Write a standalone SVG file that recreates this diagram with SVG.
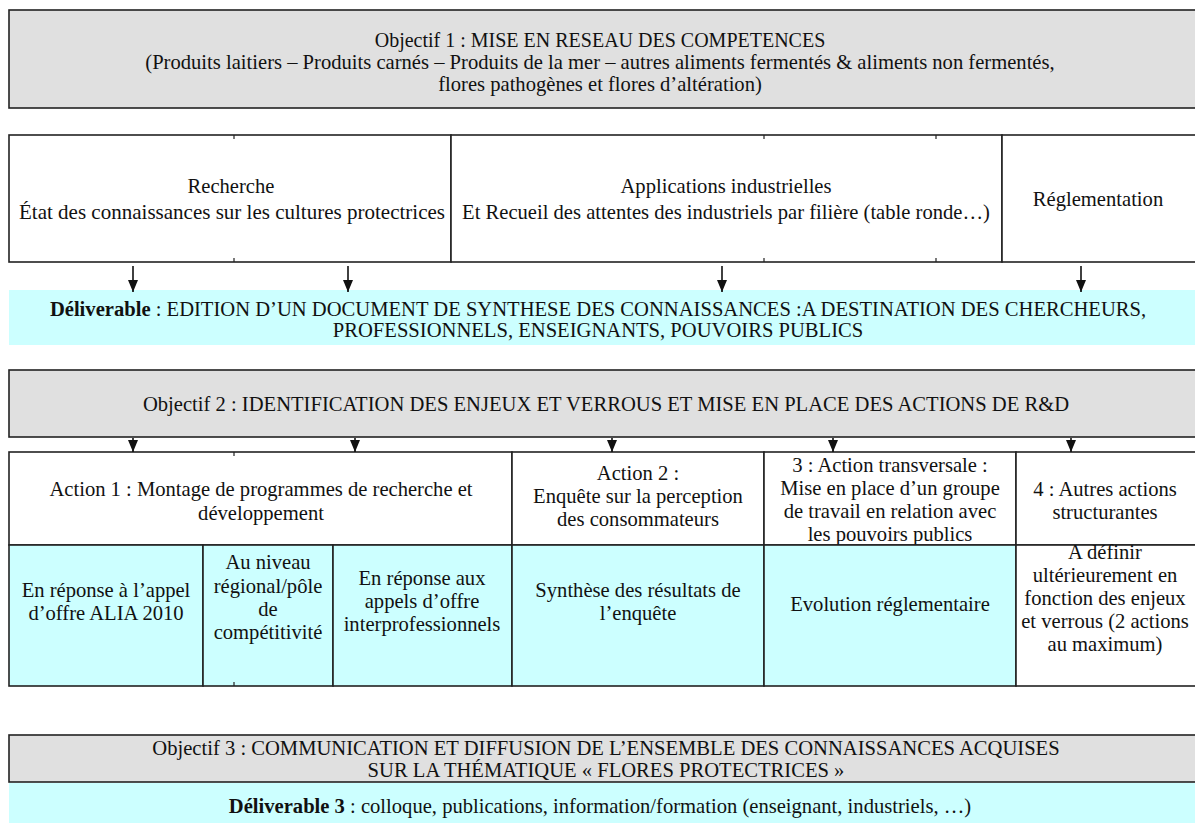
<svg xmlns="http://www.w3.org/2000/svg" width="1195" height="838" viewBox="0 0 1195 838" font-family="'Liberation Serif', 'DejaVu Serif', serif">
<style>
text{font-family:'Liberation Serif','DejaVu Serif',serif;font-size:20.6px;fill:#111;text-anchor:middle}
.b{font-weight:bold}
.gray{fill:#e0e0e0;stroke:#222;stroke-width:1.6}
.white{fill:#fff;stroke:#222;stroke-width:1.6}
.cyan{fill:#ccffff;stroke:none}
.cyanb{fill:#ccffff;stroke:#222;stroke-width:1.6}
.tick{stroke:#222;stroke-width:1.2}
.arr{stroke:#111;stroke-width:1.6;fill:none;marker-end:url(#ah)}
</style>
<defs>
<marker id="ah" viewBox="0 0 12 10" refX="12" refY="5" markerWidth="12" markerHeight="10" markerUnits="userSpaceOnUse" orient="auto">
<path d="M0,0 L12,5 L0,10 Z" fill="#111"/>
</marker>
</defs>

<g id="objectif1">
<rect class="gray" x="9" y="10" width="1195" height="98"/>
<text x="600" y="47" style="font-size:20px">Objectif 1 : MISE EN RESEAU DES COMPETENCES</text>
<text x="600" y="69">(Produits laitiers – Produits carnés – Produits de la mer – autres aliments fermentés &amp; aliments non fermentés,</text>
<text x="600" y="91">flores pathogènes et flores d’altération)</text>
</g>

<g id="recherche">
<rect class="white" x="9" y="135" width="442" height="127"/>
<text x="231" y="193">Recherche</text>
<text x="232" y="219" textLength="426" lengthAdjust="spacingAndGlyphs">État des connaissances sur les cultures protectrices</text>
</g>
<g id="applications">
<rect class="white" x="451" y="135" width="551" height="127"/>
<text x="726" y="193">Applications industrielles</text>
<text x="726" y="219">Et Recueil des attentes des industriels par filière (table ronde…)</text>
</g>
<g id="reglementation">
<rect class="white" x="1002" y="135" width="200" height="127"/>
<text x="1098" y="206">Réglementation</text>
</g>
<g id="ticks1">
<line class="tick" x1="234" y1="135" x2="234" y2="139"/>
<line class="tick" x1="234" y1="258" x2="234" y2="262"/>
<line class="tick" x1="764" y1="135" x2="764" y2="139"/>
<line class="tick" x1="764" y1="258" x2="764" y2="262"/>
<line class="tick" x1="936" y1="135" x2="936" y2="139"/>
<line class="tick" x1="936" y1="258" x2="936" y2="262"/>
</g>

<g id="deliverable1">
<rect class="cyan" x="9" y="290" width="1190" height="55"/>
<text x="598" y="316"><tspan class="b">Déliverable</tspan> : EDITION D’UN DOCUMENT DE SYNTHESE DES CONNAISSANCES :A DESTINATION DES CHERCHEURS,</text>
<text x="598" y="337">PROFESSIONNELS, ENSEIGNANTS, POUVOIRS PUBLICS</text>
</g>

<g id="objectif2">
<rect class="gray" x="9" y="370" width="1195" height="67"/>
<text x="606" y="411">Objectif 2 : IDENTIFICATION DES ENJEUX ET VERROUS ET MISE EN PLACE DES ACTIONS DE R&amp;D</text>
</g>

<g id="action1">
<rect class="white" x="9" y="452" width="503" height="93"/>
<text x="261" y="496">Action 1 : Montage de programmes de recherche et</text>
<text x="261" y="520">développement</text>
</g>
<g id="action2">
<rect class="white" x="512" y="452" width="252" height="93"/>
<text x="638" y="480">Action 2 :</text>
<text x="638" y="503">Enquête sur la perception</text>
<text x="638" y="526">des consommateurs</text>
</g>
<g id="action3">
<rect class="white" x="764" y="452" width="252" height="93"/>
<text x="890" y="472">3 : Action transversale :</text>
<text x="890" y="495">Mise en place d’un groupe</text>
<text x="890" y="518">de travail en relation avec</text>
<text x="890" y="541">les pouvoirs publics</text>
</g>
<g id="action4">
<rect class="white" x="1016" y="452" width="190" height="93"/>
<text x="1105" y="496">4 : Autres actions</text>
<text x="1105" y="519">structurantes</text>
</g>
<g id="alia">
<rect class="cyanb" x="9" y="545" width="194" height="141"/>
<text x="106" y="597">En réponse à l’appel</text>
<text x="106" y="620">d’offre ALIA 2010</text>
</g>
<g id="regional">
<rect class="cyanb" x="203" y="545" width="130" height="141"/>
<text x="268" y="569">Au niveau</text>
<text x="268" y="593">régional/pôle</text>
<text x="268" y="616">de</text>
<text x="268" y="639">compétitivité</text>
</g>
<g id="interpro">
<rect class="cyanb" x="333" y="545" width="179" height="141"/>
<text x="422" y="585">En réponse aux</text>
<text x="422" y="608">appels d’offre</text>
<text x="422" y="631">interprofessionnels</text>
</g>
<g id="synthese">
<rect class="cyanb" x="512" y="545" width="252" height="141"/>
<text x="638" y="597">Synthèse des résultats de</text>
<text x="638" y="620">l’enquête</text>
</g>
<g id="evolution">
<rect class="cyanb" x="764" y="545" width="252" height="141"/>
<text x="890" y="611">Evolution réglementaire</text>
</g>
<g id="adefinir">
<rect class="white" x="1016" y="545" width="190" height="141"/>
<text x="1105" y="559">A définir</text>
<text x="1105" y="582">ultérieurement en</text>
<text x="1105" y="605">fonction des enjeux</text>
<text x="1105" y="628">et verrous (2 actions</text>
<text x="1105" y="651">au maximum)</text>
</g>
<g id="ticks2">
<line class="tick" x1="234" y1="452" x2="234" y2="456"/>
<line class="tick" x1="234" y1="682" x2="234" y2="686"/>
</g>

<g id="objectif3">
<rect class="gray" x="9" y="735" width="1195" height="47"/>
<text x="606" y="755">Objectif 3 : COMMUNICATION ET DIFFUSION DE L’ENSEMBLE DES CONNAISSANCES ACQUISES</text>
<text x="606" y="777">SUR LA THÉMATIQUE « FLORES PROTECTRICES »</text>
</g>
<g id="deliverable3">
<rect class="cyan" x="9" y="783" width="1190" height="40"/>
<text x="600" y="813"><tspan class="b">Déliverable 3</tspan> : colloque, publications, information/formation (enseignant, industriels, …)</text>
</g>

<g id="connectors">
<line class="arr" x1="133" y1="266" x2="133" y2="292"/>
<line class="arr" x1="348" y1="266" x2="348" y2="292"/>
<line class="arr" x1="722" y1="266" x2="722" y2="292"/>
<line class="arr" x1="1081" y1="266" x2="1081" y2="292"/>
<line class="arr" x1="133" y1="438" x2="133" y2="452"/>
<line class="arr" x1="355" y1="438" x2="355" y2="452"/>
<line class="arr" x1="612" y1="438" x2="612" y2="452"/>
<line class="arr" x1="833" y1="438" x2="833" y2="452"/>
<line class="arr" x1="1071" y1="438" x2="1071" y2="452"/>
</g>
</svg>
